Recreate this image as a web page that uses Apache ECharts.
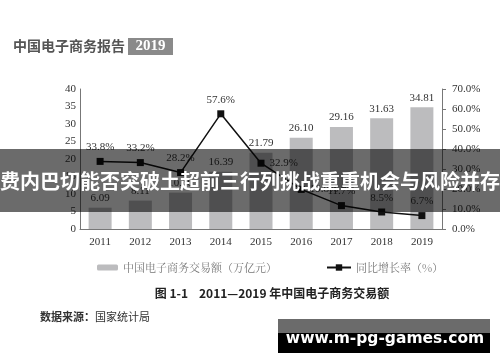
<!DOCTYPE html>
<html><head><meta charset="utf-8">
<script src="https://cdn.jsdelivr.net/npm/echarts@6/dist/echarts.min.js"></script>
<style>html,body{margin:0;padding:0;background:#fff}#c{width:500px;height:362px}</style>
</head><body><div id="c"></div>
<script>
const years = ['2011','2012','2013','2014','2015','2016','2017','2018','2019'];
const volume = [6.09, 8.11, 10.40, 16.39, 21.79, 26.10, 29.16, 31.63, 34.81];
const growth = [33.8, 33.2, 28.2, 57.6, 32.9, 19.8, 11.7, 8.5, 6.7];
const growthLabelPos = ['top','top','top','top','right','right','top','top','top'];
const leftTicks = {min: 0, max: 40, interval: 5};
const rightTicks = {min: 0, max: 70, interval: 10};
const barName = '中国电子商务交易额（万亿元）';
const lineName = '同比增长率（%）';
const headerText = '中国电子商务报告';
const headerYear = '2019';
const captionText = '图 1-1    2011—2019 年中国电子商务交易额';
const sourceLabel = '数据来源：';
const sourceText = '国家统计局';
const bannerText = '费内巴切能否突破土超前三行列挑战重重机会与风险并存';
const watermarkText = 'www.m-pg-games.com';

const serif = '"Liberation Serif", "Noto Sans CJK SC", serif';
const cjk = '"Noto Sans CJK SC", sans-serif';
const chart = echarts.init(document.getElementById('c'), null, {renderer: 'canvas'});
chart.setOption({
  animation: false,
  backgroundColor: '#ffffff',
  grid: {left: 80, right: 58, top: 89, bottom: 133, containLabel: false},
  legend: [
    {data: [barName], left: 92, top: 257, itemWidth: 21, itemHeight: 6, itemGap: 8,
     textStyle: {fontFamily: '"Noto Serif CJK SC","Noto Sans CJK SC",serif', fontSize: 11, color: '#777'}},
    {data: [lineName], left: 321, top: 257, itemWidth: 24, itemHeight: 8,
     textStyle: {fontFamily: '"Noto Serif CJK SC","Noto Sans CJK SC",serif', fontSize: 11, color: '#777'}}
  ],
  xAxis: {
    type: 'category', data: years, boundaryGap: true,
    axisLine: {show: true, lineStyle: {color: '#777', width: 1}},
    axisTick: {show: false},
    axisLabel: {fontFamily: serif, fontSize: 11, color: '#333', margin: 8}
  },
  yAxis: [
    {type: 'value', min: leftTicks.min, max: leftTicks.max, interval: leftTicks.interval,
     axisLine: {show: true, lineStyle: {color: '#777', width: 1}},
     axisTick: {show: false}, splitLine: {show: false},
     axisLabel: {fontFamily: serif, fontSize: 11, color: '#333', margin: 4}},
    {type: 'value', position: 'right', min: rightTicks.min, max: rightTicks.max, interval: rightTicks.interval,
     axisLine: {show: true, lineStyle: {color: '#777', width: 1}},
     axisTick: {show: true, length: 4, inside: false, lineStyle: {color: '#777'}},
     splitLine: {show: false},
     axisLabel: {fontFamily: serif, fontSize: 11, color: '#333', margin: 10,
       formatter: v => v.toFixed(1) + '%'}}
  ],
  series: [
    {name: barName, type: 'bar', data: volume, yAxisIndex: 0, barWidth: 23,
     itemStyle: {color: '#bcbcbe'},
     label: {show: true, position: 'top', distance: 4, fontFamily: serif, fontSize: 11, color: '#333',
       formatter: p => p.value.toFixed(2)}},
    {name: lineName, type: 'line', yAxisIndex: 1,
     data: growth.map((v, i) => ({value: v, label: {position: growthLabelPos[i]}})),
     symbol: 'rect', symbolSize: 7, showSymbol: true,
     lineStyle: {color: '#111', width: 1.5}, itemStyle: {color: '#111'},
     label: {show: true, distance: 5, fontFamily: serif, fontSize: 11, color: '#333',
       formatter: p => p.value.toFixed(1) + '%'}}
  ],
  graphic: [
    {type: 'text', left: 13, top: 39, z: 50,
     style: {text: headerText, font: 'bold 14px ' + cjk, fill: '#555'}},
    {type: 'rect', shape: {x: 128, y: 38, width: 45, height: 17}, z: 50, style: {fill: '#8a8a8a'}},
    {type: 'text', x: 150.5, y: 46.5, z: 51,
     style: {text: headerYear, font: 'bold 15px ' + serif, fill: '#fff', align: 'center', verticalAlign: 'middle'}},
    {type: 'text', x: 272, y: 293, z: 50,
     style: {text: captionText, font: 'bold 12px ' + cjk, fill: '#222', align: 'center', verticalAlign: 'middle'}},
    {type: 'text', x: 40, y: 317, z: 50,
     style: {text: sourceLabel, font: 'bold 11px ' + cjk, fill: '#333', verticalAlign: 'middle'}},
    {type: 'text', x: 95, y: 317, z: 50,
     style: {text: sourceText, font: '11px ' + cjk, fill: '#333', verticalAlign: 'middle'}},
    {type: 'rect', shape: {x: 0, y: 149, width: 500, height: 63}, z: 100, style: {fill: 'rgba(0,0,0,0.58)'}},
    {type: 'text', x: 250, y: 181, z: 101,
     style: {text: bannerText, font: 'bold 20px ' + cjk, fill: '#fff', align: 'center', verticalAlign: 'middle'}},
    {type: 'rect', shape: {x: 278, y: 319, width: 212, height: 34}, z: 100, style: {fill: '#000'}},
    {type: 'rect', shape: {x: 278, y: 319, width: 212, height: 14}, z: 100, style: {fill: '#6b6b6b'}},
    {type: 'text', x: 385, y: 339, z: 101,
     style: {text: watermarkText, font: 'bold 15.5px "DejaVu Sans", sans-serif', fill: '#fff', align: 'center', verticalAlign: 'middle'}}
  ]
});
</script></body></html>
